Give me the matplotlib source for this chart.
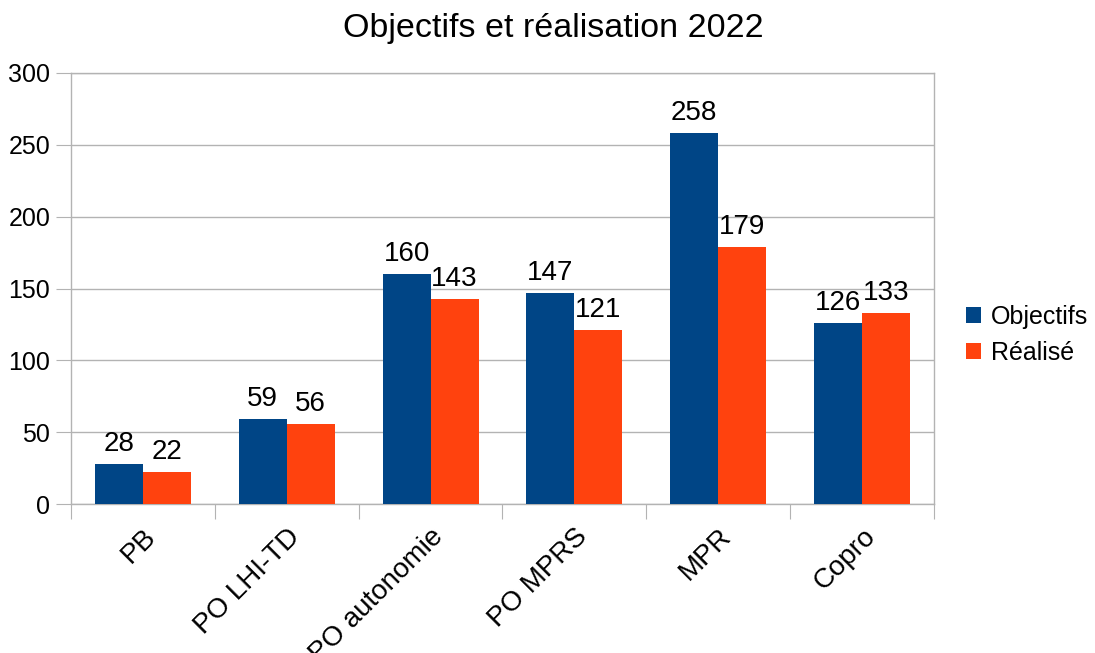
import numpy as np
import matplotlib.pyplot as plt

plt.rcParams['font.family'] = ['Liberation Sans', 'DejaVu Sans']

# Data
categories = ['PB', 'PO LHI-TD', 'PO autonomie', 'PO MPRS', 'MPR', 'Copro']
objectifs = [28, 59, 160, 147, 258, 126]
realise = [22, 56, 143, 121, 179, 133]

blue = '#004586'
orange = '#ff420e'
grid_col = '#b3b3b3'

fig = plt.figure(figsize=(10.95, 6.53), dpi=100)
ax = fig.add_axes([71 / 1095, 1 - 504 / 653, (934 - 71) / 1095, (504 - 73) / 653])

x = np.arange(len(categories)) + 0.5
w = 1 / 3
b1 = ax.bar(x - w / 2, objectifs, w, color=blue, label='Objectifs', zorder=3)
b2 = ax.bar(x + w / 2, realise, w, color=orange, label='Réalisé', zorder=3)

ax.bar_label(b1, padding=5, fontsize=20)
ax.bar_label(b2, padding=5, fontsize=20)

ax.set_xlim(0, len(categories))
ax.set_ylim(0, 300)
ax.set_yticks(range(0, 301, 50))
ax.tick_params(axis='y', labelsize=18, length=11, color=grid_col, pad=4)

# category boundaries as ticks, labels at centres
ax.set_xticks(range(len(categories) + 1))
ax.set_xticklabels([])
ax.set_xticks(x, minor=True)
ax.set_xticklabels(categories, minor=True, rotation=45, ha='right',
                   rotation_mode='anchor', fontsize=20)
ax.tick_params(axis='x', which='minor', length=0, pad=14)
ax.tick_params(axis='x', which='major', length=11, color=grid_col)

ax.yaxis.grid(True, color=grid_col, linewidth=1, zorder=0)
for s in ax.spines.values():
    s.set_color(grid_col)
    s.set_linewidth(1)

fig.suptitle('Objectifs et réalisation 2022', fontsize=24.5, x=0.505, y=0.98)

fig.legend(loc='center left', bbox_to_anchor=(0.882, 0.487), frameon=False,
           fontsize=18, handlelength=0.6, handleheight=0.6, handletextpad=0.4,
           labelspacing=0.5, borderpad=0, borderaxespad=0)

fig.savefig('out.png', dpi=100)
